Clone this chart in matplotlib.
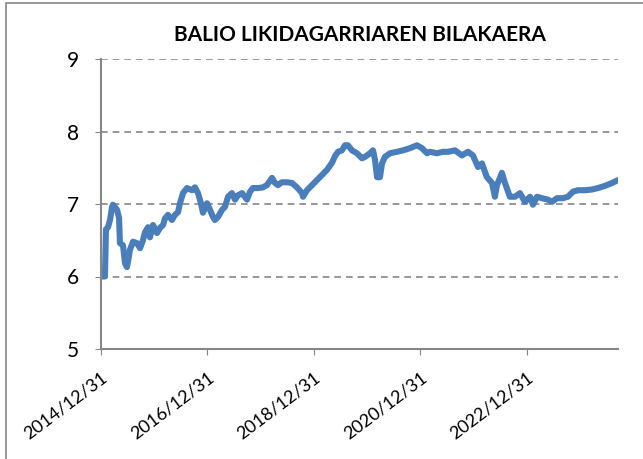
import matplotlib
matplotlib.use("Agg")
import matplotlib.pyplot as plt
import matplotlib.dates as mdates
from matplotlib.patches import Rectangle
import pandas as pd

plt.rcParams['font.family'] = ['Lato', 'DejaVu Sans']

# Balio likidagarria (irakurritako balioak)
datak = [
    "2014-12-31", "2015-01-27", "2015-02-03", "2015-02-17", "2015-03-03", "2015-03-17",
    "2015-03-23", "2015-04-20", "2015-05-04", "2015-05-10", "2015-05-31", "2015-06-14",
    "2015-06-27", "2015-07-04", "2015-07-18", "2015-08-08", "2015-09-04", "2015-09-25",
    "2015-10-15", "2015-10-29", "2015-11-19", "2015-12-02", "2015-12-23", "2016-01-19",
    "2016-02-09", "2016-03-01", "2016-03-14", "2016-04-04", "2016-05-01", "2016-05-22",
    "2016-06-12", "2016-06-25", "2016-07-16", "2016-08-12", "2016-09-16", "2016-10-06",
    "2016-10-27", "2016-11-16", "2016-11-30", "2016-12-28", "2017-01-17", "2017-02-07",
    "2017-02-20", "2017-03-13", "2017-04-10", "2017-04-30", "2017-05-21", "2017-06-17",
    "2017-07-08", "2017-07-28", "2017-08-25", "2017-09-28", "2017-10-19", "2017-11-08",
    "2017-12-13", "2018-01-16", "2018-02-12", "2018-03-19", "2018-04-08", "2018-04-29",
    "2018-05-26", "2018-06-30", "2018-08-03", "2018-09-06", "2018-10-11", "2018-10-18",
    "2018-11-14", "2018-12-18", "2019-01-22", "2019-02-25", "2019-03-31", "2019-05-05",
    "2019-05-25", "2019-06-15", "2019-07-12", "2019-08-02", "2019-08-22", "2019-09-19",
    "2019-10-23", "2019-11-27", "2019-12-17", "2020-01-20", "2020-02-10", "2020-02-24",
    "2020-03-09", "2020-03-29", "2020-04-12", "2020-05-02", "2020-06-06", "2020-07-24",
    "2020-09-03", "2020-10-21", "2020-12-08", "2021-01-11", "2021-02-15", "2021-03-07",
    "2021-04-24", "2021-06-04", "2021-07-09", "2021-08-26", "2021-10-13", "2021-11-23",
    "2021-12-27", "2022-01-31", "2022-02-27", "2022-04-02", "2022-05-07", "2022-05-27",
    "2022-06-10", "2022-07-14", "2022-08-04", "2022-09-07", "2022-10-12", "2022-11-15",
    "2022-12-19", "2023-01-23", "2023-02-12", "2023-03-12", "2023-04-15", "2023-05-26",
    "2023-06-23", "2023-07-27", "2023-09-06", "2023-10-10", "2023-11-14", "2023-12-18",
    "2024-02-04", "2024-03-23", "2024-05-03", "2024-06-20", "2024-08-08", "2024-09-18",
]
balioak = [
    6.00, 6.00, 6.65, 6.68, 6.78, 6.96,
    6.99, 6.92, 6.81, 6.46, 6.43, 6.18,
    6.13, 6.20, 6.37, 6.48, 6.46, 6.39,
    6.50, 6.61, 6.68, 6.54, 6.71, 6.60,
    6.67, 6.71, 6.80, 6.85, 6.78, 6.85,
    6.89, 7.01, 7.15, 7.22, 7.19, 7.23,
    7.15, 7.01, 6.88, 7.01, 6.92, 6.82,
    6.78, 6.82, 6.92, 6.96, 7.10, 7.15,
    7.06, 7.12, 7.15, 7.06, 7.17, 7.22,
    7.22, 7.23, 7.26, 7.36, 7.29, 7.26,
    7.30, 7.30, 7.29, 7.23, 7.15, 7.10,
    7.19, 7.26, 7.33, 7.40, 7.47, 7.57,
    7.66, 7.72, 7.74, 7.81, 7.81, 7.74,
    7.70, 7.63, 7.65, 7.70, 7.74, 7.61,
    7.37, 7.37, 7.56, 7.65, 7.70, 7.72,
    7.74, 7.77, 7.81, 7.77, 7.70, 7.72,
    7.70, 7.72, 7.72, 7.74, 7.67, 7.72,
    7.67, 7.51, 7.56, 7.37, 7.29, 7.10,
    7.26, 7.43, 7.29, 7.10, 7.10, 7.15,
    7.03, 7.10, 6.99, 7.10, 7.08, 7.06,
    7.03, 7.08, 7.08, 7.10, 7.17, 7.19,
    7.19, 7.20, 7.22, 7.25, 7.29, 7.33,
]
urte_markak = ["2014-12-31", "2016-12-31", "2018-12-31", "2020-12-31", "2022-12-31"]
izenburua = "BALIO LIKIDAGARRIAREN BILAKAERA"

x = pd.to_datetime(datak)
markak = pd.to_datetime(urte_markak)

fig = plt.figure(figsize=(6.43, 4.59), dpi=100)
ax = fig.add_axes([101/643, 1-349/459, 517/643, 290/459])

ax.plot(x, balioak, color='#4A7EBB', linewidth=4.4, solid_joinstyle='round',
        solid_capstyle='round')

ax.set_ylim(5, 9)
ax.set_yticks([5, 6, 7, 8, 9])
ax.set_xlim(x[0], x[-1])
ax.set_xticks(markak)
ax.xaxis.set_major_formatter(mdates.DateFormatter('%Y/%m/%d'))

for g in [6, 7, 8, 9]:
    ax.axhline(g, color='#868686', linestyle=(0, (4, 3)), linewidth=1.2, zorder=0)

for s in ['top', 'right']:
    ax.spines[s].set_visible(False)
for s in ['left', 'bottom']:
    ax.spines[s].set_color('#868686')
    ax.spines[s].set_linewidth(1.5)

ax.tick_params(axis='y', direction='out', length=4, color='#868686', labelsize=15, pad=12)
ax.tick_params(axis='x', direction='out', length=4, color='#868686', labelsize=13, pad=11)
for lab in ax.get_xticklabels():
    lab.set_rotation(37)
    lab.set_ha('right')
    lab.set_va('top')
    lab.set_rotation_mode('anchor')

ax.set_title(izenburua, fontsize=15, fontweight='bold', pad=13)

fig.patches.append(Rectangle((6/643, -0.05), 1.1, 1.05 - 3/459, transform=fig.transFigure,
                             fill=False, edgecolor='#868686', linewidth=1.2))

fig.savefig('out.png', dpi=100)
